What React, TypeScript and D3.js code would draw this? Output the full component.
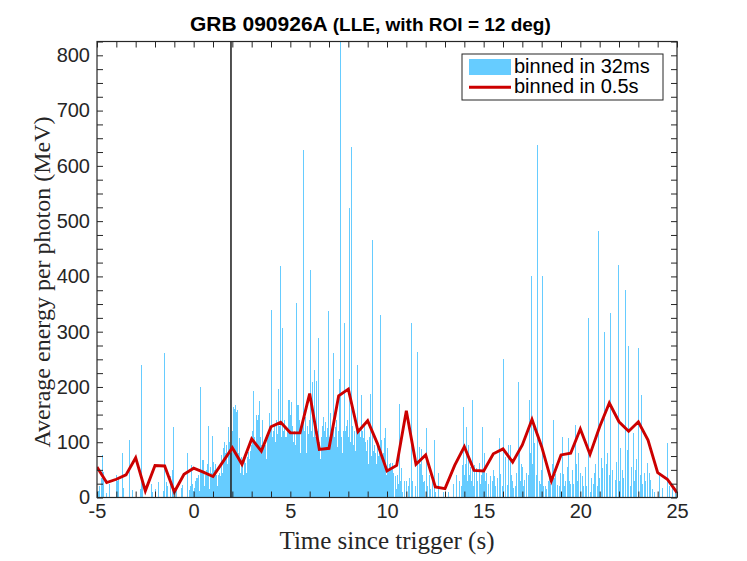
import React, { useRef, useEffect } from 'react';
import * as d3 from 'd3';

// 32 ms bins, first bin starts at t = -5 s
const binStart = -5;
const binWidth = 0.032;
const energy32ms: number[] = [
  // -5.0 s
  0, 12, 0, 0, 20, 0, 0, 35, 77, 47, 30, 0, 0, 0, 8, 0, 0, 0, 0, 0, 25, 0, 0, 0, 0,
  // -4.2 s
  0, 0, 0, 0, 0, 38, 40, 30, 22, 35, 0, 0, 0, 0, 0, 80, 28, 18, 0, 0, 0, 0, 0, 0, 0,
  // -3.4 s
  0, 0, 104, 0, 0, 0, 14, 10, 0, 0, 0, 0, 0, 0, 0, 0, 0, 0, 0, 15, 0, 239, 0, 25, 0,
  // -2.6 s
  0, 0, 0, 0, 0, 0, 0, 0, 0, 0, 0, 0, 25, 0, 10, 0, 0, 0, 0, 15, 0, 0, 0, 0, 28,
  // -1.8 s
  0, 0, 0, 0, 0, 0, 12, 0, 262, 10, 0, 28, 0, 20, 0, 0, 0, 0, 38, 0, 0, 50, 0, 127, 0,
  // -1.0 s
  0, 0, 0, 16, 0, 0, 0, 0, 0, 0, 0, 18, 0, 22, 0, 0, 0, 0, 0, 0, 30, 80, 0, 0, 14,
  // -0.2 s
  0, 20, 59, 25, 0, 12, 0, 18, 0, 30, 35, 22, 35, 40, 0, 12, 25, 200, 45, 68, 30, 55, 68, 20, 40,
  // 0.6 s
  35, 50, 20, 60, 129, 40, 15, 30, 55, 25, 45, 111, 30, 65, 50, 60, 20, 40, 35, 20, 25, 40, 30, 45, 38,
  // 1.4 s
  60, 77, 45, 70, 90, 55, 101, 80, 65, 95, 60, 128, 85, 100, 70, 90, 80, 60, 120, 95, 164, 110, 160, 167, 140,
  // 2.2 s
  155, 120, 158, 80, 107, 60, 45, 74, 30, 56, 65, 40, 70, 35, 58, 62, 45, 74, 50, 83, 60, 70, 55, 85, 95,
  // 3.0 s
  100, 120, 192, 85, 110, 90, 95, 149, 120, 140, 149, 100, 174, 110, 80, 95, 140, 120, 75, 90, 100, 85, 95, 70, 110,
  // 3.8 s
  90, 120, 80, 152, 100, 130, 340, 95, 110, 85, 120, 130, 100, 75, 140, 90, 115, 197, 95, 130, 80, 419, 110, 100, 306,
  // 4.6 s
  120, 90, 140, 100, 110, 85, 110, 120, 95, 176, 130, 176, 150, 90, 173, 110, 130, 100, 85, 120, 95, 351, 110, 140, 167,
  // 5.4 s
  167, 110, 140, 80, 120, 95, 130, 100, 628, 120, 90, 146, 105, 80, 130, 95, 115, 140, 100, 412, 150, 120, 209, 140, 110,
  // 6.2 s
  230, 130, 95, 110, 210, 120, 85, 140, 289, 100, 70, 50, 110, 90, 130, 146, 100, 120, 137, 95, 110, 80, 125, 338, 100,
  // 7.0 s
  110, 152, 90, 120, 100, 130, 95, 262, 110, 128, 85, 140, 100, 92, 120, 80, 215, 130, 830, 110, 95, 80, 120, 100, 140,
  // 7.8 s
  315, 120, 130, 95, 140, 110, 90, 523, 120, 100, 634, 110, 130, 80, 95, 120, 100, 85, 130, 110, 239, 95, 120, 100, 120,
  // 8.6 s
  110, 186, 90, 120, 80, 107, 95, 134, 100, 70, 85, 104, 95, 60, 110, 80, 90, 188, 75, 100, 466, 85, 70, 95, 60,
  // 9.4 s
  80, 60, 95, 50, 75, 40, 85, 330, 60, 104, 70, 45, 80, 55, 107, 60, 125, 40, 90, 70, 50, 30, 60, 62, 44,
  // 10.2 s
  50, 30, 62, 20, 44, 0, 35, 38, 0, 15, 40, 25, 0, 170, 30, 20, 53, 0, 10, 0, 0, 25, 30, 0, 0,
  // 11.0 s
  30, 0, 20, 0, 0, 35, 0, 315, 0, 30, 0, 0, 0, 0, 20, 0, 0, 45, 264, 0, 30, 92, 60, 0, 88,
  // 11.8 s
  40, 0, 28, 0, 30, 0, 60, 125, 0, 20, 0, 40, 0, 0, 15, 0, 0, 35, 0, 104, 0, 0, 10, 0, 0,
  // 12.6 s
  0, 44, 0, 0, 0, 0, 0, 0, 0, 0, 10, 0, 0, 0, 0, 0, 0, 10, 0, 0, 0, 0, 0, 0, 0,
  // 13.4 s
  0, 25, 0, 0, 0, 41, 0, 0, 0, 0, 30, 0, 0, 20, 0, 59, 0, 164, 40, 0, 60, 0, 128, 30, 0,
  // 14.2 s
  95, 40, 0, 55, 0, 30, 177, 0, 20, 59, 0, 0, 53, 0, 30, 0, 0, 62, 0, 25, 0, 40, 0, 128, 50,
  // 15.0 s
  80, 0, 30, 0, 45, 0, 0, 25, 0, 0, 38, 0, 0, 30, 0, 50, 38, 0, 0, 20, 0, 0, 35, 0, 0,
  // 15.8 s
  107, 0, 43, 0, 15, 20, 0, 250, 0, 35, 74, 0, 22, 0, 95, 60, 0, 95, 0, 40, 0, 30, 0, 18, 0,
  // 16.6 s
  0, 20, 0, 45, 0, 209, 0, 86, 25, 30, 0, 60, 56, 0, 20, 0, 31, 0, 45, 14, 0, 40, 0, 176, 0,
  // 17.4 s
  80, 0, 400, 60, 140, 0, 30, 98, 0, 40, 0, 70, 638, 0, 30, 0, 25, 50, 0, 400, 0, 20, 0, 0, 20,
  // 18.2 s
  0, 15, 0, 0, 30, 43, 0, 0, 25, 0, 0, 60, 140, 0, 35, 0, 43, 0, 0, 22, 0, 0, 20, 0, 45,
  // 19.0 s
  0, 110, 0, 43, 0, 20, 0, 30, 0, 55, 0, 107, 0, 30, 25, 0, 0, 40, 50, 0, 25, 0, 131, 0, 60,
  // 19.8 s
  0, 30, 0, 80, 0, 0, 45, 0, 0, 38, 0, 20, 0, 0, 55, 0, 20, 0, 0, 324, 0, 0, 10, 0, 35,
  // 20.6 s
  0, 25, 0, 44, 0, 60, 0, 0, 20, 30, 483, 0, 35, 0, 71, 0, 0, 53, 0, 90, 300, 0, 60, 0, 0,
  // 21.4 s
  80, 0, 40, 0, 333, 0, 0, 50, 25, 0, 0, 0, 31, 0, 65, 0, 0, 420, 0, 30, 0, 89, 0, 0, 50,
  // 22.2 s
  0, 35, 0, 376, 0, 0, 86, 0, 40, 274, 0, 20, 0, 56, 0, 0, 116, 0, 30, 0, 50, 0, 70, 0, 30,
  // 23.0 s
  270, 0, 40, 0, 185, 0, 25, 0, 0, 44, 0, 30, 0, 0, 62, 0, 0, 45, 0, 31, 0, 0, 15, 0, 0,
  // 23.8 s
  10, 0, 0, 0, 0, 0, 0, 0, 44, 0, 0, 0, 0, 17, 0, 0, 0, 0, 0, 0, 0, 0, 98, 0, 0,
  // 24.6 s
  20, 0, 0, 0, 0, 17, 0, 0, 0, 0, 10, 0, 0,
];

// 0.5 s bins
const coarseTimes = [
  -5, -4.5, -4, -3.5, -3, -2.5, -2, -1.5, -1, -0.5, 0, 0.5, 1, 1.5, 2, 2.5, 3, 3.5, 4, 4.5,
  5, 5.5, 6, 6.5, 7, 7.5, 8, 8.5, 9, 9.5, 10, 10.5, 11, 11.5, 12, 12.5, 13, 13.5, 14, 14.5,
  15, 15.5, 16, 16.5, 17, 17.5, 18, 18.5, 19, 19.5, 20, 20.5, 21, 21.5, 22, 22.5, 23, 23.5, 24, 24.5, 25,
];
const energy05s = [
  55, 27, 33, 41, 72, 12, 58, 57, 10, 42, 53, 46, 38, 64, 90, 60, 106, 84, 128, 136,
  117, 117, 188, 87, 89, 184, 196, 119, 139, 98, 48, 58, 157, 60, 77, 19, 16, 58, 92, 49,
  48, 79, 88, 64, 95, 141, 92, 30, 77, 80, 124, 78, 128, 171, 137, 120, 137, 104, 45, 33, 9,
];

const markerTime = 1.93;
const xTicks = [-5, 0, 5, 10, 15, 20, 25];
const yTicks = [0, 100, 200, 300, 400, 500, 600, 700, 800];
const legendLabels = ['binned in 32ms', 'binned in 0.5s'];

const W = 747;
const H = 561;
const margin = { top: 41.5, right: 70, bottom: 63.5, left: 97 };
const axisColor = '#262626';
const barColor = '#66CCFF';
const lineColor = '#CC0000';
const sans = '"Liberation Sans", Arial, Helvetica, sans-serif';
const serif = '"Liberation Serif", "Times New Roman", serif';

const App: React.FC = () => {
  const ref = useRef<SVGSVGElement>(null);

  useEffect(() => {
    const svg = d3.select(ref.current);
    svg.selectAll('*').remove();

    const x = d3.scaleLinear().domain([-5, 25]).range([margin.left, W - margin.right]);
    const y = d3.scaleLinear().domain([0, 825]).range([H - margin.bottom, margin.top]);

    svg.append('clipPath').attr('id', 'plot-clip')
      .append('rect')
      .attr('x', x(-5)).attr('y', y(825))
      .attr('width', x(25) - x(-5)).attr('height', y(0) - y(825));

    const plot = svg.append('g').attr('clip-path', 'url(#plot-clip)');

    // 32 ms bars (sub-pixel wide, so drawn at least one pixel wide like the original)
    const barW = Math.max(1, x(binWidth) - x(0));
    plot.append('g')
      .attr('shape-rendering', 'crispEdges')
      .selectAll('rect')
      .data(energy32ms.map((v, i) => ({ t: binStart + i * binWidth, v })).filter(d => d.v > 0))
      .join('rect')
      .attr('x', d => x(d.t))
      .attr('width', barW)
      .attr('y', d => y(d.v))
      .attr('height', d => y(0) - y(d.v))
      .attr('fill', barColor);

    // trigger marker
    plot.append('line')
      .attr('x1', x(markerTime)).attr('x2', x(markerTime))
      .attr('y1', y(0)).attr('y2', y(825))
      .attr('stroke', axisColor)
      .attr('stroke-width', 1.6);

    // 0.5 s line
    plot.append('path')
      .datum(coarseTimes.map((t, i) => [t, energy05s[i]] as [number, number]))
      .attr('fill', 'none')
      .attr('stroke', lineColor)
      .attr('stroke-width', 2.9)
      .attr('stroke-linejoin', 'miter')
      .attr('d', d3.line<[number, number]>().x(d => x(d[0])).y(d => y(d[1])));

    // axes: inward ticks on all four sides, minor ticks unlabeled
    const xMinor = d3.range(-5, 25.01, 1);
    const yMinor = d3.range(0, 825.01, 25);
    const fmtX = (d: d3.NumberValue) => (xTicks.includes(+d) ? String(d) : '');
    const fmtY = (d: d3.NumberValue) => (yTicks.includes(+d) ? String(d) : '');

    const styleAxis = (g: d3.Selection<SVGGElement, unknown, null, undefined>) => {
      g.select('.domain').remove();
      g.selectAll('line').attr('stroke', axisColor).attr('stroke-width', 1);
      g.selectAll('text').attr('fill', axisColor).attr('font-family', sans).attr('font-size', 20);
    };

    svg.append('g')
      .attr('transform', `translate(0,${y(0)})`)
      .call(d3.axisBottom(x).tickValues(xMinor).tickSize(-6).tickSizeOuter(0).tickPadding(6).tickFormat(fmtX))
      .call(styleAxis);
    svg.append('g')
      .attr('transform', `translate(0,${y(825)})`)
      .call(d3.axisTop(x).tickValues(xMinor).tickSize(-6).tickSizeOuter(0).tickFormat(() => ''))
      .call(styleAxis);
    svg.append('g')
      .attr('transform', `translate(${x(-5)},0)`)
      .call(d3.axisLeft(y).tickValues(yMinor).tickSize(-6).tickSizeOuter(0).tickPadding(7).tickFormat(fmtY))
      .call(styleAxis);
    svg.append('g')
      .attr('transform', `translate(${x(25)},0)`)
      .call(d3.axisRight(y).tickValues(yMinor).tickSize(-6).tickSizeOuter(0).tickFormat(() => ''))
      .call(styleAxis);

    svg.append('rect')
      .attr('x', x(-5)).attr('y', y(825))
      .attr('width', x(25) - x(-5)).attr('height', y(0) - y(825))
      .attr('fill', 'none')
      .attr('stroke', axisColor)
      .attr('stroke-width', 1.2);

    // title
    const title = svg.append('text')
      .attr('x', 190).attr('y', 31)
      .attr('font-family', sans).attr('font-weight', 'bold')
      .attr('fill', 'black');
    title.append('tspan').attr('font-size', 21).text('GRB 090926A ');
    title.append('tspan').attr('font-size', 19).text('(LLE, with ROI = 12 deg)');

    // axis labels
    svg.append('text')
      .attr('x', (x(-5) + x(25)) / 2).attr('y', 549)
      .attr('text-anchor', 'middle')
      .attr('font-family', serif).attr('font-size', 25)
      .attr('fill', axisColor)
      .text('Time since trigger (s)');
    svg.append('text')
      .attr('transform', 'translate(50,282) rotate(-90)')
      .attr('text-anchor', 'middle')
      .attr('font-family', serif).attr('font-size', 24)
      .attr('fill', axisColor)
      .text('Average energy per photon (MeV)');

    // legend
    const lg = svg.append('g').attr('transform', 'translate(462,54)');
    lg.append('rect')
      .attr('width', 201).attr('height', 46)
      .attr('fill', 'white').attr('stroke', axisColor).attr('stroke-width', 1);
    lg.append('rect')
      .attr('x', 7).attr('y', 5).attr('width', 42).attr('height', 16)
      .attr('fill', barColor);
    lg.append('line')
      .attr('x1', 7).attr('x2', 49).attr('y1', 33.3).attr('y2', 33.3)
      .attr('stroke', lineColor).attr('stroke-width', 2.9);
    lg.selectAll('text.lbl')
      .data(legendLabels)
      .join('text')
      .attr('class', 'lbl')
      .attr('x', 52)
      .attr('y', (d, i) => 19.3 + i * 20)
      .attr('font-family', sans).attr('font-size', 20)
      .attr('fill', 'black')
      .text(d => d);
  }, []);

  return (
    <svg ref={ref} width={W} height={H}
      style={{ position: 'absolute', left: 0, top: 0, background: 'white' }} />
  );
};

export default App;
